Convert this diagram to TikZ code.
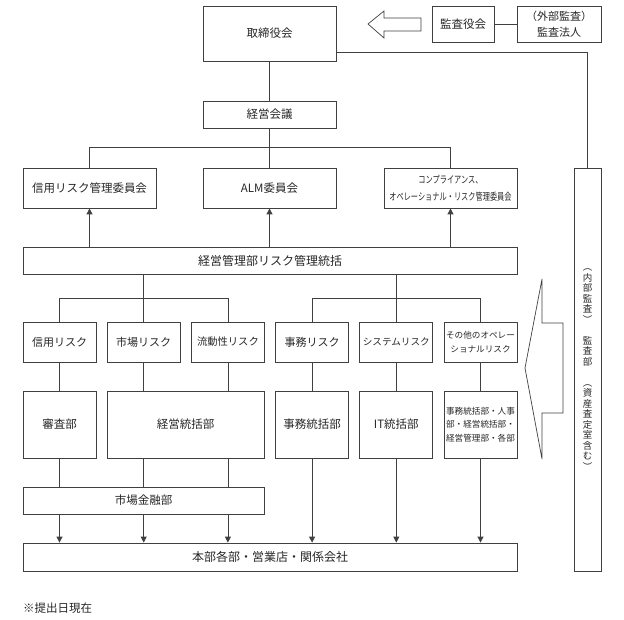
\documentclass[tikz,border=0pt]{standalone}
\usepackage{fontspec}
\setmainfont{Noto Sans CJK JP}
\newfontfamily\condfont[FakeStretch=0.72]{Noto Sans CJK JP}
\usetikzlibrary{arrows.meta}
\tikzset{
  box/.style={draw=black!75, line width=0.8pt, inner sep=0pt, text=black!85, align=center,
              font=\fontsize{11.5}{14}\selectfont},
  riskbox/.style={box, minimum width=73pt, minimum height=40pt, font=\fontsize{11}{14}\selectfont},
  lowbox/.style={box, minimum width=73pt, minimum height=67pt},
  ln/.style={draw=black!75, line width=0.8pt},
  arr/.style={ln, -{Triangle[width=6pt,length=6pt]}},
  hollow/.style={draw=black!75, line width=0.7pt, fill=white, line join=miter}
}
\begin{document}
\begin{tikzpicture}[x=1pt,y=-1pt]
\useasboundingbox (0,0) rectangle (624,620);

% top row
\node[box, minimum width=133pt, minimum height=55pt] (tori) at (269.5,33.5) {取締役会};
\node[box, minimum width=62pt, minimum height=36pt] (kansayaku) at (463,24) {監査役会};
\node[box, minimum width=84pt, minimum height=36pt, font=\fontsize{11}{16}\selectfont] (gaibu) at (559,24) {（外部監査）\\監査法人};

% hollow arrow toward 取締役会
\draw[hollow] (368,24) -- (384,11) -- (384,18) -- (421,18) -- (421,31) -- (384,31) -- (384,38) -- cycle;

\node[box, minimum width=133pt, minimum height=27pt] (kaigi) at (269.5,114.5) {経営会議};

% committees
\node[box, minimum width=133pt, minimum height=40pt] (iinA) at (89.5,188) {信用リスク管理委員会};
\node[box, minimum width=133pt, minimum height=40pt] (iinB) at (269.5,188) {ALM委員会};
\node[box, minimum width=133pt, minimum height=40pt, font=\condfont\fontsize{10}{17}\selectfont] (iinC) at (450.5,188) {コンプライアンス、\\オペレーショナル・リスク管理委員会};

\node[box, minimum width=494pt, minimum height=27pt, font=\fontsize{12}{14}\selectfont] (bar) at (270,260.5) {経営管理部リスク管理統括};

% risk boxes
\node[riskbox] (r1) at (59.5,342) {信用リスク};
\node[riskbox] (r2) at (143.7,342) {市場リスク};
\node[riskbox, font=\fontsize{10.3}{14}\selectfont] (r3) at (227.9,342) {流動性リスク};
\node[riskbox] (r4) at (312.1,342) {事務リスク};
\node[riskbox, font=\fontsize{9.6}{14}\selectfont] (r5) at (396.3,342) {システムリスク};
\node[riskbox, font=\fontsize{8.6}{14}\selectfont] (r6) at (480.5,342) {その他のオペレー\\ショナルリスク};

% lower boxes
\node[lowbox] (l1) at (59.5,424.5) {審査部};
\node[lowbox, minimum width=157pt] (l2) at (185.5,424.5) {経営統括部};
\node[lowbox] (l4) at (312.1,424.5) {事務統括部};
\node[lowbox] (l5) at (396.3,424.5) {IT統括部};
\node[lowbox, font=\fontsize{8.6}{13.5}\selectfont] (l6) at (480.5,424.5) {事務統括部・人事\\部・経営統括部・\\経営管理部・各部};

\node[box, minimum width=241pt, minimum height=27pt] (ichiba) at (143.5,500.5) {市場金融部};
\node[box, minimum width=494pt, minimum height=28pt, font=\fontsize{12}{14}\selectfont] (honbu) at (270,557) {本部各部・営業店・関係会社};

% internal audit
\node[box, minimum width=27pt, minimum height=403pt, font=\fontsize{9.5}{10.5}\selectfont] (kansabu) at (587.5,369.5)
  {︵\\内\\部\\監\\査\\︶\\　\\監\\査\\部\\　\\︵\\資\\産\\査\\定\\室\\含\\む\\︶};

% big hollow arrow
\draw[hollow] (525,368) -- (542,279) -- (542,323) -- (563,323) -- (563,413) -- (542,413) -- (542,459) -- cycle;

\node[anchor=west, inner sep=0pt, text=black!85, font=\fontsize{11.5}{14}\selectfont] (note) at (23,608) {※提出日現在};

% connectors
\draw[ln] (tori.south) -- (kaigi.north);
\draw[ln] ([yshift=9pt]tori.south east) -| (kansabu.north);
\draw[ln] (kansayaku.east) -- (gaibu.west);
\draw[ln] (kaigi.south) -- (iinB.north);
\draw[ln] (iinA.north) -- ++(0,-20) -| (iinC.north);
\draw[arr] (bar.north -| iinA.south) -- (iinA.south);
\draw[arr] (bar.north -| iinB.south) -- (iinB.south);
\draw[arr] (bar.north -| iinC.south) -- (iinC.south);

\draw[ln] (bar.south -| r2.north) -- (r2.north);
\draw[ln] (r1.north) -- ++(0,-23) -| (r3.north);
\draw[ln] (bar.south -| r5.north) -- (r5.north);
\draw[ln] (r4.north) -- ++(0,-23) -| (r6.north);

\draw[ln] (r1.south) -- (l1.north);
\draw[ln] (r2.south) -- (r2.south |- l2.north);
\draw[ln] (r3.south) -- (r3.south |- l2.north);
\draw[ln] (r4.south) -- (l4.north);
\draw[ln] (r5.south) -- (l5.north);
\draw[ln] (r6.south) -- (l6.north);

\draw[ln] (l1.south) -- (l1.south |- ichiba.north);
\draw[ln] (l2.south -| r2.south) -- (ichiba.north -| r2.south);
\draw[ln] (l2.south -| r3.south) -- (ichiba.north -| r3.south);

\draw[arr] (ichiba.south -| r1.south) -- (honbu.north -| r1.south);
\draw[arr] (ichiba.south -| r2.south) -- (honbu.north -| r2.south);
\draw[arr] (ichiba.south -| r3.south) -- (honbu.north -| r3.south);
\draw[arr] (l4.south) -- (honbu.north -| l4.south);
\draw[arr] (l5.south) -- (honbu.north -| l5.south);
\draw[arr] (l6.south) -- (honbu.north -| l6.south);
\end{tikzpicture}
\end{document}
